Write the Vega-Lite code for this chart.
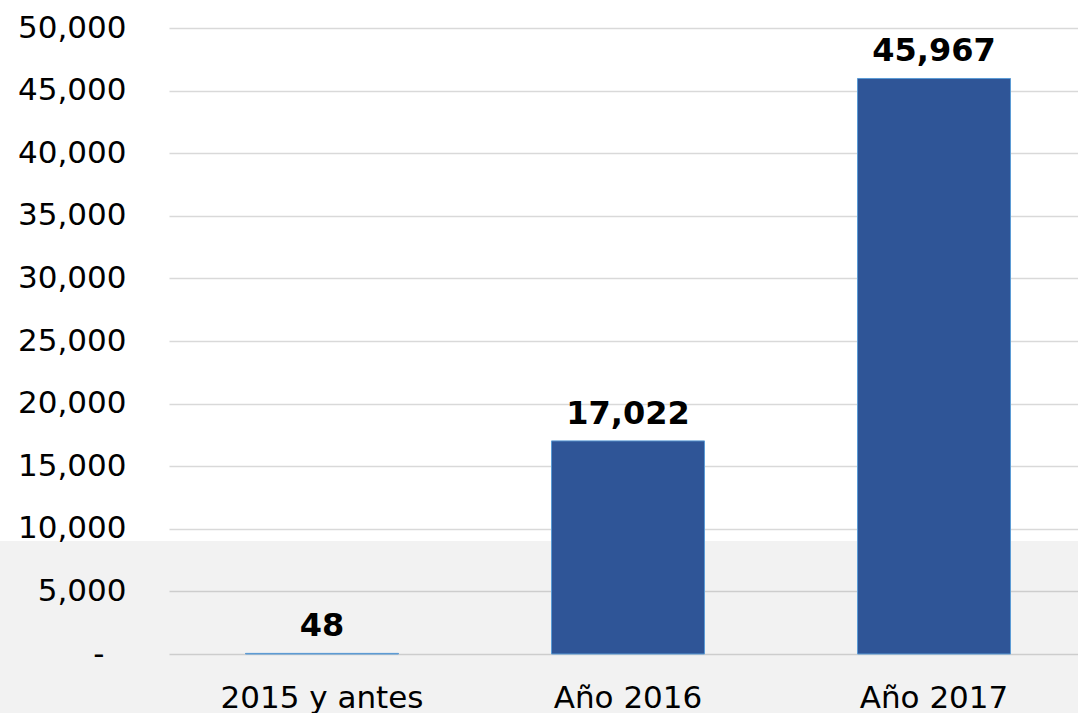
{
  "$schema": "https://vega.github.io/schema/vega-lite/v6.json",
  "width": 918,
  "height": 626,
  "autosize": {"type": "none"},
  "padding": {"left": 169, "top": 28, "right": 0, "bottom": 59},
  "background": "white",
  "config": {
    "view": {"stroke": null},
    "font": "DejaVu Sans",
    "axisY": {"grid": true, "gridColor": "#D9D9D9", "gridWidth": 1.5, "domain": false, "ticks": false,
              "labelFontSize": 31, "labelColor": "#000000", "title": null},
    "axisX": {"domain": false, "ticks": false, "grid": false, "labelAngle": 0, "labelLimit": 0,
              "labelFontSize": 31, "labelColor": "#000000", "labelBaseline": "alphabetic",
              "labelPadding": 53, "title": null}
  },
  "data": {"values": [
    {"periodo": "2015 y antes", "valor": 48},
    {"periodo": "Año 2016", "valor": 17022},
    {"periodo": "Año 2017", "valor": 45967}
  ]},
  "layer": [
    {
      "data": {"values": [{}]},
      "mark": {"type": "rect", "fill": "#000000", "opacity": 0.051},
      "encoding": {
        "x": {"datum": -0.553, "type": "quantitative", "scale": {"domain": [0, 3]}, "axis": null},
        "x2": {"datum": 3.2},
        "y": {"datum": 9026, "type": "quantitative"},
        "y2": {"datum": -4720}
      }
    },
    {
      "layer": [
        {
          "mark": {"type": "bar", "fill": "#2F5597", "stroke": "#5B9BD5", "strokeWidth": 1},
          "encoding": {
            "x": {"field": "periodo", "type": "nominal", "sort": null,
                  "scale": {"paddingInner": 0.5, "paddingOuter": 0.25}},
            "y": {"field": "valor", "type": "quantitative",
                  "scale": {"domain": [0, 50000], "nice": false},
                  "axis": {"values": [0, 5000, 10000, 15000, 20000, 25000, 30000, 35000, 40000, 45000, 50000],
                           "labelPadding": {"condition": {"test": "datum.value === 0", "value": 65}, "value": 43},
                           "labelExpr": "datum.value === 0 ? '-' : format(datum.value, ',')"}}
          }
        },
        {
          "mark": {"type": "text", "fontWeight": "bold", "fontSize": 32, "dy": -17, "baseline": "alphabetic", "color": "#000000"},
          "encoding": {
            "x": {"field": "periodo", "type": "nominal", "sort": null},
            "y": {"field": "valor", "type": "quantitative"},
            "text": {"field": "valor", "type": "quantitative", "format": ","}
          }
        }
      ]
    }
  ],
  "resolve": {"scale": {"x": "independent"}}
}
